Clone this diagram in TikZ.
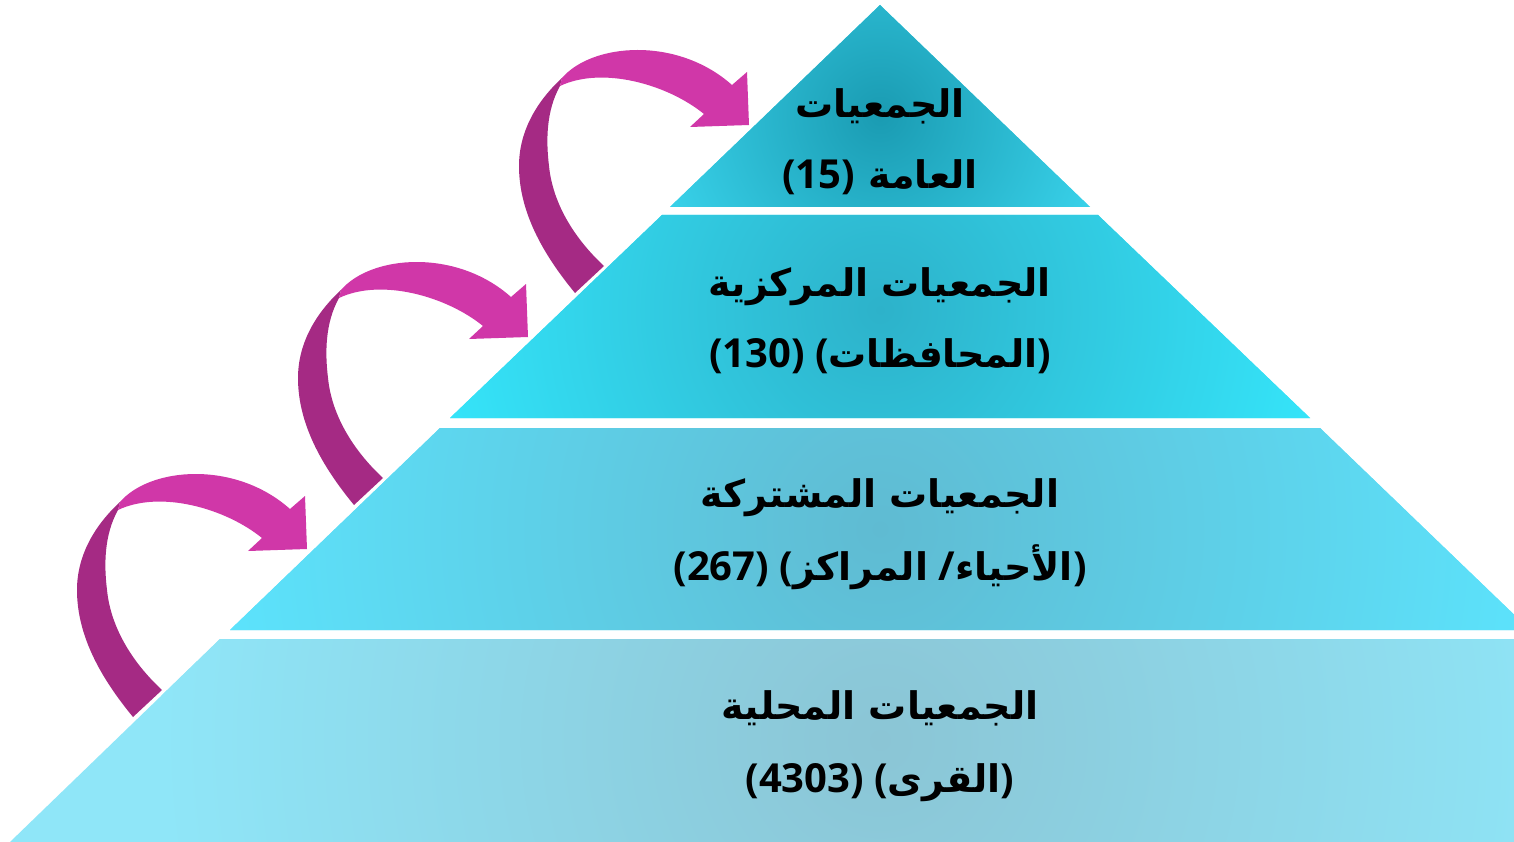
\documentclass[tikz,border=0pt]{standalone}
\usepackage{fontspec}
\newfontfamily\arabicfont[Script=Arabic]{DejaVu Sans}
\newfontfamily\latinfont{Open Sans}
\TeXXeTstate=1
\definecolor{arrdark}{RGB}{165,42,132}
\definecolor{arrlight}{RGB}{208,55,168}
\definecolor{aIn}{RGB}{26,155,178}
\definecolor{aOut}{RGB}{58,212,236}
\definecolor{bIn}{RGB}{45,178,202}
\definecolor{bOut}{RGB}{54,232,253}
\definecolor{cIn}{RGB}{95,187,210}
\definecolor{cOut}{RGB}{92,228,253}
\definecolor{dIn}{RGB}{139,197,213}
\definecolor{dOut}{RGB}{143,230,248}
\newcommand\lt[1]{{\latinfont\fontsize{40}{46}\selectfont #1}}
\newcommand\mycurvedarrow{%
  \fill[arrdark] (133,717) .. controls (100,677) and (77,635) .. (77,590)
     .. controls (77,555) and (95,525) .. (120,502) -- (118,510)
     .. controls (104,535) and (104,565) .. (107,590)
     .. controls (111,630) and (135,665) .. (162,690) -- cycle;
  \fill[arrlight] (120,502) .. controls (150,467) and (235,460) .. (290,509)
     -- (305,496) -- (307,549) -- (248,551) -- (262,538)
     .. controls (225,508) and (160,490) .. (118,510) -- cycle;
}
\begin{document}
\begin{tikzpicture}[x=1pt,y=-1pt,
  lbl/.style={font=\arabicfont\bfseries\fontsize{38}{44}\selectfont,text=black,inner sep=0pt,anchor=base}]
\useasboundingbox (0,0) rectangle (1514,842);
\fill[white] (0,0) rectangle (1514,842);
\begin{scope}
\clip (0,0) rectangle (1514,842);
% layers
\begin{scope}
\clip (880,5) -- (1090,207) -- (670,207) -- cycle;
\fill[aOut] (600,0) rectangle (1200,220);
\shade[inner color=aIn,outer color=aOut] (880,115) circle (240);
\end{scope}
\begin{scope}
\clip (662,215) -- (1098,215) -- (1310,418) -- (450,418) -- cycle;
\fill[bOut] (400,200) rectangle (1400,430);
\shade[inner color=bIn,outer color=bOut] (880,310) circle (480);
\end{scope}
\begin{scope}
\clip (440,428) -- (1320,428) -- (1530,630) -- (230,630) -- cycle;
\fill[cOut] (200,420) rectangle (1600,640);
\shade[inner color=cIn,outer color=cOut] (880,529) circle (680);
\end{scope}
\begin{scope}
\clip (220,639) -- (1540,639) -- (1750,842) -- (10,842) -- cycle;
\fill[dOut] (0,630) rectangle (1800,850);
\shade[inner color=dIn,outer color=dOut] (880,740) circle (720);
\end{scope}
% arrows
\mycurvedarrow
\begin{scope}[shift={(221,-212)}]\mycurvedarrow\end{scope}
\begin{scope}[shift={(442,-424)}]\mycurvedarrow\end{scope}
\end{scope}
% texts
\node[lbl] (t1a) at (880,118) {\beginR الجمعيات\endR};
\node[lbl] (t1b) at (880,189) {\lt{(15)} \beginR العامة\endR};
\node[lbl] (t2a) at (880,296) {\beginR الجمعيات المركزية\endR};
\node[lbl] (t2b) at (880,367) {\lt{(130) (}\beginR المحافظات\endR\lt{)}};
\node[lbl] (t3a) at (880,507) {\beginR الجمعيات المشتركة\endR};
\node[lbl] (t3b) at (880,580) {\lt{(267) (}\beginR المراكز\endR\lt{ /}\beginR الأحياء\endR\lt{)}};
\node[lbl] (t4a) at (880,719) {\beginR الجمعيات المحلية\endR};
\node[lbl] (t4b) at (880,792) {\lt{(4303) (}\beginR القرى\endR\lt{)}};
\end{tikzpicture}
\end{document}
